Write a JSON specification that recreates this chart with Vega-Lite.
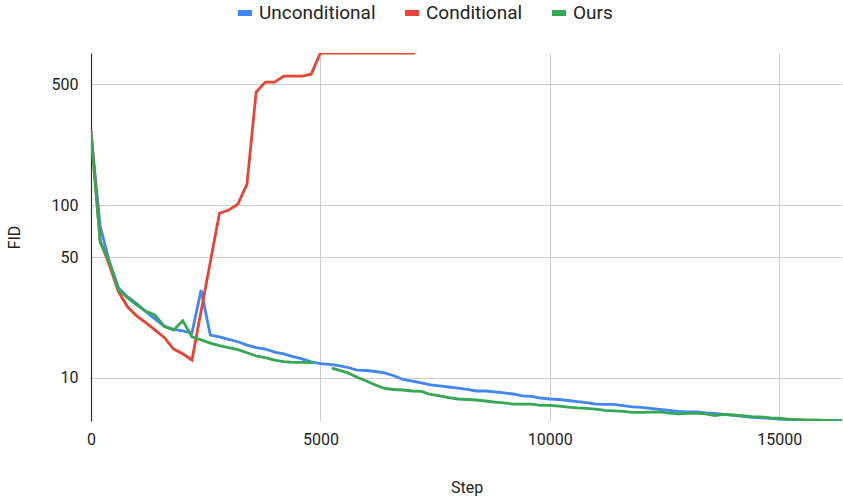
{
  "$schema": "https://vega.github.io/schema/vega-lite/v6.json",
  "width": 751,
  "height": 368,
  "autosize": {"type": "none"},
  "padding": {"left": 91, "top": 53, "right": 1, "bottom": 76},
  "background": "white",
  "config": {"font": "Roboto", "view": {"stroke": null}},
  "datasets": {
    "u": [
      [0,258],[200,75.6],[400,46.8],[600,33.1],[800,29.4],[1000,26.8],[1200,24.1],[1400,21.9],[1600,19.9],[1800,19.1],[2000,18.7],[2200,18.2],[2400,32.3],[2600,17.7],[2800,17.3],[3000,16.7],[3200,16.2],[3400,15.5],[3600,15.0],[3800,14.7],[4000,14.1],[4200,13.8],[4400,13.3],[4600,12.9],[4800,12.4],[5000,12.1],[5200,12.0],[5400,11.8],[5600,11.5],[5800,11.1],[6000,11.05],[6200,10.9],[6400,10.7],[6600,10.3],[6800,9.8],[7000,9.6],[7200,9.36],[7400,9.11],[7600,8.99],[7800,8.87],[8000,8.75],[8200,8.58],[8400,8.41],[8600,8.41],[8800,8.3],[9000,8.19],[9200,8.08],[9400,7.87],[9600,7.82],[9800,7.66],[10000,7.56],[10200,7.51],[10400,7.41],[10600,7.31],[10800,7.21],[11000,7.07],[11200,7.03],[11400,7.03],[11600,6.93],[11800,6.8],[12000,6.76],[12200,6.67],[12400,6.58],[12600,6.5],[12800,6.41],[13000,6.36],[13200,6.36],[13400,6.28],[13600,6.24],[13800,6.16],[14000,6.07],[14200,6.0],[14400,5.92],[14600,5.88],[14800,5.85],[15000,5.79],[15200,5.75],[15400,5.75],[15600,5.71],[15800,5.71],[16000,5.68],[16200,5.68],[16370,5.66]
    ]
  },
  "data": {
    "values": [
      {"s":"Conditional","g":"c","x":0,"y":271},
      {"s":"Conditional","g":"c","x":200,"y":62},
      {"s":"Conditional","g":"c","x":400,"y":45},
      {"s":"Conditional","g":"c","x":600,"y":31.5},
      {"s":"Conditional","g":"c","x":800,"y":25.7},
      {"s":"Conditional","g":"c","x":1000,"y":22.8},
      {"s":"Conditional","g":"c","x":1200,"y":20.8},
      {"s":"Conditional","g":"c","x":1400,"y":18.9},
      {"s":"Conditional","g":"c","x":1600,"y":17.1},
      {"s":"Conditional","g":"c","x":1800,"y":14.7},
      {"s":"Conditional","g":"c","x":2000,"y":13.8},
      {"s":"Conditional","g":"c","x":2200,"y":12.7},
      {"s":"Conditional","g":"c","x":2800,"y":89.6},
      {"s":"Conditional","g":"c","x":3000,"y":93.5},
      {"s":"Conditional","g":"c","x":3200,"y":101},
      {"s":"Conditional","g":"c","x":3400,"y":132},
      {"s":"Conditional","g":"c","x":3600,"y":450},
      {"s":"Conditional","g":"c","x":3800,"y":514},
      {"s":"Conditional","g":"c","x":4000,"y":514},
      {"s":"Conditional","g":"c","x":4200,"y":557},
      {"s":"Conditional","g":"c","x":4400,"y":557},
      {"s":"Conditional","g":"c","x":4600,"y":557},
      {"s":"Conditional","g":"c","x":4800,"y":571},
      {"s":"Conditional","g":"c","x":5000,"y":757},
      {"s":"Conditional","g":"c","x":5400,"y":757},
      {"s":"Conditional","g":"c","x":5800,"y":757},
      {"s":"Conditional","g":"c","x":6200,"y":757},
      {"s":"Conditional","g":"c","x":6600,"y":757},
      {"s":"Conditional","g":"c","x":7060,"y":757},

      {"s":"Ours","g":"o1","x":0,"y":261},
      {"s":"Ours","g":"o1","x":200,"y":61},
      {"s":"Ours","g":"o1","x":400,"y":47},
      {"s":"Ours","g":"o1","x":600,"y":32.3},
      {"s":"Ours","g":"o1","x":800,"y":29},
      {"s":"Ours","g":"o1","x":1000,"y":26.4},
      {"s":"Ours","g":"o1","x":1200,"y":24.3},
      {"s":"Ours","g":"o1","x":1400,"y":23.1},
      {"s":"Ours","g":"o1","x":1600,"y":19.8},
      {"s":"Ours","g":"o1","x":1800,"y":18.9},
      {"s":"Ours","g":"o1","x":2000,"y":21.4},
      {"s":"Ours","g":"o1","x":2200,"y":17.3},
      {"s":"Ours","g":"o1","x":2400,"y":16.6},
      {"s":"Ours","g":"o1","x":2600,"y":15.9},
      {"s":"Ours","g":"o1","x":2800,"y":15.4},
      {"s":"Ours","g":"o1","x":3000,"y":15.0},
      {"s":"Ours","g":"o1","x":3200,"y":14.6},
      {"s":"Ours","g":"o1","x":3400,"y":14.0},
      {"s":"Ours","g":"o1","x":3600,"y":13.4},
      {"s":"Ours","g":"o1","x":3800,"y":13.1},
      {"s":"Ours","g":"o1","x":4000,"y":12.7},
      {"s":"Ours","g":"o1","x":4200,"y":12.45},
      {"s":"Ours","g":"o1","x":4400,"y":12.3},
      {"s":"Ours","g":"o1","x":4600,"y":12.3},
      {"s":"Ours","g":"o1","x":4850,"y":12.25},

      {"s":"Ours","g":"o2","x":5250,"y":11.4},
      {"s":"Ours","g":"o2","x":5400,"y":11.1},
      {"s":"Ours","g":"o2","x":5600,"y":10.7},
      {"s":"Ours","g":"o2","x":5800,"y":10.1},
      {"s":"Ours","g":"o2","x":6000,"y":9.6},
      {"s":"Ours","g":"o2","x":6200,"y":9.11},
      {"s":"Ours","g":"o2","x":6400,"y":8.7},
      {"s":"Ours","g":"o2","x":6600,"y":8.58},
      {"s":"Ours","g":"o2","x":6800,"y":8.52},
      {"s":"Ours","g":"o2","x":7000,"y":8.41},
      {"s":"Ours","g":"o2","x":7200,"y":8.36},
      {"s":"Ours","g":"o2","x":7400,"y":8.03},
      {"s":"Ours","g":"o2","x":7600,"y":7.87},
      {"s":"Ours","g":"o2","x":7800,"y":7.71},
      {"s":"Ours","g":"o2","x":8000,"y":7.56},
      {"s":"Ours","g":"o2","x":8200,"y":7.51},
      {"s":"Ours","g":"o2","x":8400,"y":7.46},
      {"s":"Ours","g":"o2","x":8600,"y":7.36},
      {"s":"Ours","g":"o2","x":8800,"y":7.26},
      {"s":"Ours","g":"o2","x":9000,"y":7.17},
      {"s":"Ours","g":"o2","x":9200,"y":7.07},
      {"s":"Ours","g":"o2","x":9400,"y":7.06},
      {"s":"Ours","g":"o2","x":9600,"y":7.07},
      {"s":"Ours","g":"o2","x":9800,"y":6.95},
      {"s":"Ours","g":"o2","x":10000,"y":6.95},
      {"s":"Ours","g":"o2","x":10200,"y":6.87},
      {"s":"Ours","g":"o2","x":10400,"y":6.79},
      {"s":"Ours","g":"o2","x":10600,"y":6.71},
      {"s":"Ours","g":"o2","x":10800,"y":6.67},
      {"s":"Ours","g":"o2","x":11000,"y":6.61},
      {"s":"Ours","g":"o2","x":11200,"y":6.5},
      {"s":"Ours","g":"o2","x":11400,"y":6.45},
      {"s":"Ours","g":"o2","x":11600,"y":6.41},
      {"s":"Ours","g":"o2","x":11800,"y":6.33},
      {"s":"Ours","g":"o2","x":12000,"y":6.32},
      {"s":"Ours","g":"o2","x":12200,"y":6.35},
      {"s":"Ours","g":"o2","x":12400,"y":6.36},
      {"s":"Ours","g":"o2","x":12600,"y":6.26},
      {"s":"Ours","g":"o2","x":12800,"y":6.2},
      {"s":"Ours","g":"o2","x":13000,"y":6.24},
      {"s":"Ours","g":"o2","x":13200,"y":6.24},
      {"s":"Ours","g":"o2","x":13400,"y":6.2},
      {"s":"Ours","g":"o2","x":13600,"y":6.06},
      {"s":"Ours","g":"o2","x":13800,"y":6.16},
      {"s":"Ours","g":"o2","x":14000,"y":6.11},
      {"s":"Ours","g":"o2","x":14200,"y":6.06},
      {"s":"Ours","g":"o2","x":14400,"y":5.98},
      {"s":"Ours","g":"o2","x":14600,"y":5.96},
      {"s":"Ours","g":"o2","x":14800,"y":5.88},
      {"s":"Ours","g":"o2","x":15000,"y":5.85},
      {"s":"Ours","g":"o2","x":15200,"y":5.79},
      {"s":"Ours","g":"o2","x":15400,"y":5.75},
      {"s":"Ours","g":"o2","x":15600,"y":5.71},
      {"s":"Ours","g":"o2","x":15800,"y":5.7},
      {"s":"Ours","g":"o2","x":16000,"y":5.68},
      {"s":"Ours","g":"o2","x":16200,"y":5.67},
      {"s":"Ours","g":"o2","x":16370,"y":5.66}
    ]
  },
  "layer": [
    {
      "data": {"name": "u"},
      "transform": [
        {"calculate": "datum[0]", "as": "x"},
        {"calculate": "datum[1]", "as": "y"},
        {"calculate": "'Unconditional'", "as": "s"},
        {"calculate": "'u'", "as": "g"}
      ],
      "mark": {"type": "line", "strokeWidth": 2.8, "clip": true},
      "encoding": {
        "x": {"field": "x", "type": "quantitative"},
        "y": {"field": "y", "type": "quantitative"},
        "color": {"field": "s", "type": "nominal"},
        "detail": {"field": "g"}
      }
    },
    {
      "mark": {"type": "line", "strokeWidth": 2.8, "clip": true},
      "encoding": {
        "x": {
          "field": "x", "type": "quantitative",
          "scale": {"domain": [0, 16370], "nice": false, "zero": false},
          "axis": {
            "values": [0, 5000, 10000, 15000], "title": "Step", "grid": true, "gridColor": "#cccccc",
            "domain": false, "ticks": false, "labelFlush": false, "labelFontSize": 16, "labelPadding": 10,
            "labelColor": "#222222", "titleColor": "#222222", "titleFontSize": 16, "titleFontWeight": "normal",
            "titlePadding": 32, "format": "d"
          }
        },
        "y": {
          "field": "y", "type": "quantitative",
          "scale": {"type": "log", "domain": [5.64, 757], "nice": false},
          "axis": {
            "values": [10, 50, 100, 500], "title": "FID", "grid": true, "gridColor": "#cccccc",
            "domain": true, "domainColor": "#333333", "domainWidth": 1.2, "ticks": false, "labelFontSize": 16, "labelPadding": 13,
            "labelColor": "#222222", "titleColor": "#222222", "titleFontSize": 16, "titleFontWeight": "normal",
            "titlePadding": 29, "format": "d"
          }
        },
        "color": {
          "field": "s", "type": "nominal",
          "scale": {"domain": ["Unconditional", "Conditional", "Ours"], "range": ["#4285F4", "#EA4335", "#34A853"]},
          "legend": {
            "orient": "none", "legendX": 144, "legendY": -50, "direction": "horizontal", "title": null,
            "symbolType": "stroke", "symbolSize": 196, "symbolStrokeWidth": 6,
            "labelFontSize": 19, "labelColor": "#222222", "labelOffset": 4, "columnPadding": 17
          }
        },
        "detail": {"field": "g"}
      }
    }
  ]
}
